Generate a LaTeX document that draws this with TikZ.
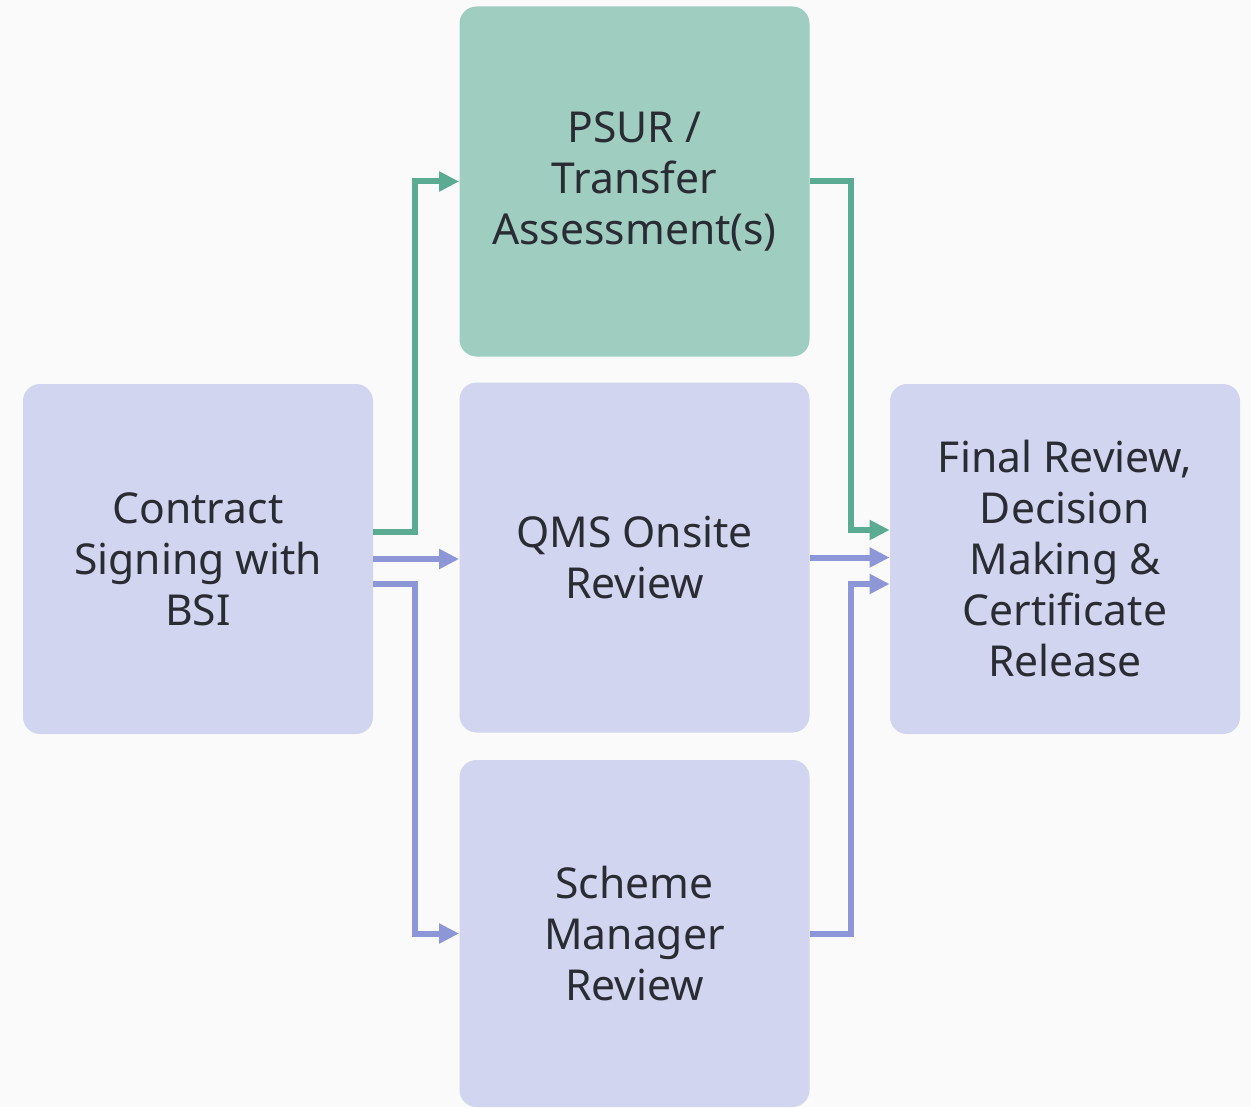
\documentclass[tikz,border=0pt]{standalone}
\usepackage{fontspec}
\setmainfont{Noto Sans}
\usetikzlibrary{arrows.meta}
\definecolor{pagebg}{HTML}{FAFAFA}
\definecolor{lavender}{HTML}{D2D5EF}
\definecolor{mint}{HTML}{9FCDC0}
\definecolor{mintline}{HTML}{5BAA92}
\definecolor{lilacline}{HTML}{8D97D8}
\definecolor{inktext}{HTML}{2A2C33}
\tikzset{
  stage/.style={fill=lavender, rounded corners=8.5pt, inner sep=0pt,
    minimum width=175pt, minimum height=175pt, align=center,
    text=inktext, font=\fontsize{21.3}{25.5}\selectfont},
  greenlink/.style={draw=mintline, line width=3pt, -{Triangle[length=10pt,width=9.5pt]}},
  lilaclink/.style={draw=lilacline, line width=3pt, -{Triangle[length=10pt,width=9.5pt]}}
}
\begin{document}
\begin{tikzpicture}[x=0.5pt, y=-0.5pt]
  \fill[pagebg] (0,0) rectangle (1251,1107);
  \useasboundingbox (0,0) rectangle (1251,1107);

  \node[stage] (contract) at (198,559) {Contract\\Signing with\\BSI};
  \node[stage, fill=mint] (psur) at (634.5,181.5) {PSUR /\\Transfer\\Assessment(s)};
  \node[stage] (qms) at (634.5,557.5) {QMS Onsite\\Review};
  \node[stage, minimum height=173.5pt] (scheme) at (634.5,933.5) {Scheme\\Manager\\Review};
  \node[stage] (final) at (1065,559) {Final Review,\\Decision\\Making \&\\Certificate\\Release};

  \draw[greenlink] ([yshift=13.5pt]contract.east) -- ++(21pt,0) |- (psur.west);
  \draw[lilaclink] (contract.east) -- (contract.east -| qms.west);
  \draw[lilaclink] ([yshift=-12.5pt]contract.east) -- ++(21pt,0) |- (scheme.west);

  \draw[greenlink] (psur.east) -- ++(20.5pt,0) |- ([yshift=14.5pt]final.west);
  \draw[lilaclink] (qms.east) -- (qms.east -| final.west);
  \draw[lilaclink] (scheme.east) -- ++(20.5pt,0) |- ([yshift=-12.5pt]final.west);
\end{tikzpicture}
\end{document}
